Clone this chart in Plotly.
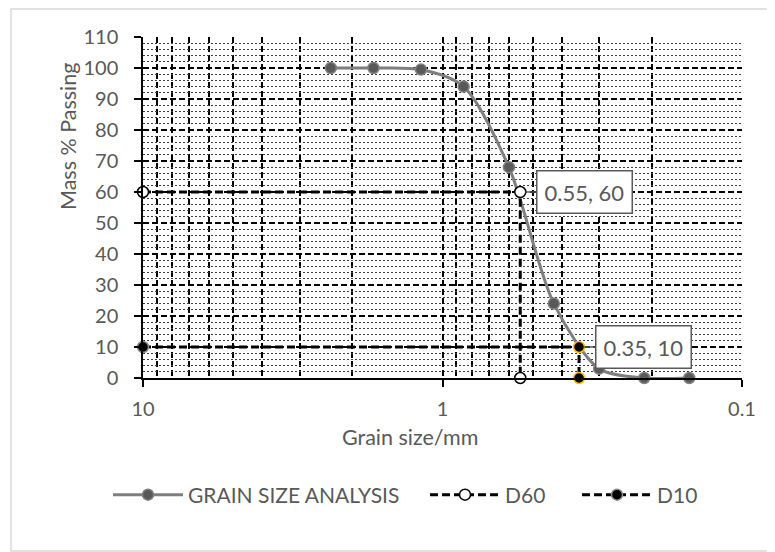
import math
import plotly.graph_objects as go

# ---- data ----
grain_size_mm = [2.36, 1.7, 1.18, 0.85, 0.6, 0.425, 0.3, 0.212, 0.15]
mass_passing = [100, 100, 99.5, 94, 68, 24, 3, 0, 0]

d60_x = [10, 0.55, 0.55]
d60_y = [60, 60, 0]

d10_x = [10, 0.35, 0.35]
d10_y = [10, 10, 0]

x_tick_vals = [10, 1, 0.1]
x_tick_text = ["10", "1", "0.1"]

label_points = [(0.55, 60, "0.55, 60"), (0.35, 10, "0.35, 10")]

FONT = "Lato"
TXT = "#595959"

# plot area in reference pixels (page has an 8px body margin)
PX0, PX1, PY0, PY1 = 143, 742, 37, 378


def px(xp):
    return (xp - PX0) / (PX1 - PX0)


def py(yp):
    return (PY1 - yp) / (PY1 - PY0)


fig = go.Figure()

fig.add_trace(go.Scatter(
    x=grain_size_mm, y=mass_passing, name="GRAIN SIZE ANALYSIS",
    mode="lines+markers", line=dict(color="#7f7f7f", width=3, shape="spline", smoothing=0.8),
    marker=dict(size=11, color="#595959", line=dict(color="#808080", width=1.5)),
    cliponaxis=False, legend="legend",
))
fig.add_trace(go.Scatter(
    x=d60_x, y=d60_y, name="D60", mode="lines+markers",
    line=dict(color="black", width=3, dash="8px,4px"),
    marker=dict(size=11, color="white", line=dict(color="black", width=1.5)),
    cliponaxis=False, legend="legend2",
))
fig.add_trace(go.Scatter(
    x=d10_x, y=d10_y, name="D10", mode="lines+markers",
    line=dict(color="black", width=3, dash="8px,4px"),
    marker=dict(size=11, color="black",
                line=dict(color=["#8c8c8c", "#ffc000", "#ffc000"], width=1.5)),
    cliponaxis=False, legend="legend3",
))

for (lx, ly, lt) in label_points:
    fig.add_annotation(
        x=math.log10(lx), y=ly, xref="x", yref="y", text=lt,
        showarrow=True, arrowhead=0, arrowwidth=1.5, arrowcolor="#595959",
        ax=64, ay=0, standoff=5,
        bgcolor="white", bordercolor="#595959", borderwidth=1.5, borderpad=7,
        font=dict(family=FONT, size=22, color=TXT),
    )

# axis titles
fig.add_annotation(text="Mass % Passing", xref="paper", yref="paper",
                   x=px(68), y=py(137), xanchor="center", yanchor="middle",
                   showarrow=False, textangle=-90,
                   font=dict(family=FONT, size=21.5, color=TXT))
fig.add_annotation(text="Grain size/mm", xref="paper", yref="paper",
                   x=px(410), y=py(437), xanchor="center", yanchor="middle",
                   showarrow=False,
                   font=dict(family=FONT, size=21.5, color=TXT))

# outer chart border
fig.add_shape(type="rect", xref="paper", yref="paper",
              x0=px(11), x1=px(774.5), y0=py(551), y1=py(9),
              line=dict(color="#d9d9d9", width=1.5), layer="below")

fig.update_xaxes(
    type="log", range=[1, -1], automargin=False,
    tickvals=x_tick_vals, ticktext=x_tick_text,
    showgrid=True, gridcolor="black", gridwidth=1.5, griddash="6px,3px",
    showline=True, linecolor="black", linewidth=1.5,
    ticks="outside", ticklen=7, tickcolor="black", tickwidth=1.5,
    ticklabelstandoff=5,
    tickfont=dict(family=FONT, size=20, color=TXT),
    minor=dict(dtick="D1", showgrid=True, gridcolor="black", gridwidth=1.5,
               griddash="6px,3px", ticks=""),
    zeroline=False,
)
fig.update_yaxes(
    range=[0, 110], dtick=10, automargin=False,
    showgrid=True, gridcolor="black", gridwidth=1.5, griddash="6px,3px",
    showline=True, linecolor="black", linewidth=1.5,
    ticks="outside", ticklen=7, tickcolor="black", tickwidth=1.5,
    ticklabelstandoff=12,
    tickfont=dict(family=FONT, size=20, color=TXT),
    minor=dict(dtick=2, showgrid=True, gridcolor="#404040", gridwidth=1,
               griddash="2px,2px", ticks=""),
    zeroline=False,
)

leg_common = dict(orientation="h", xanchor="left", yanchor="middle",
                  y=py(495), font=dict(family=FONT, size=21, color=TXT),
                  itemwidth=70, bgcolor="rgba(0,0,0,0)", borderwidth=0)

fig.update_layout(
    width=767, height=544,
    margin=dict(l=PX0 - 8, r=775 - PX1, t=PY0 - 8, b=552 - PY1),
    paper_bgcolor="white", plot_bgcolor="white",
    font=dict(family=FONT, size=20, color=TXT),
    showlegend=True,
    legend=dict(x=px(112 - 4), **leg_common),
    legend2=dict(x=px(430 - 5), **leg_common),
    legend3=dict(x=px(581 - 4), **leg_common),
)

fig.write_html("out.html")
